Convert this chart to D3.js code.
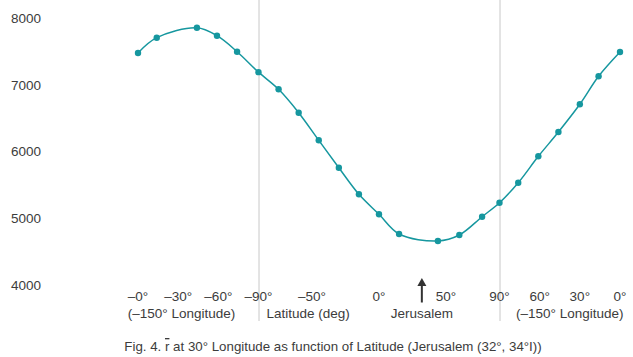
<!DOCTYPE html>
<html>
<head>
<meta charset="utf-8">
<script src="https://cdn.jsdelivr.net/npm/d3@7"></script>
<style>
  html, body { margin: 0; padding: 0; background: #fff; }
  svg { display: block; font-family: "Liberation Sans", Arial, sans-serif; }
</style>
</head>
<body>
<svg id="chart" width="633" height="357"></svg>
<script>
// Position along the path (degrees travelled): 0..90 = lat 0 to -90 at -150° lon,
// 90..270 = lat -90 to +90 at 30° lon, 270..360 = lat 90 to 0 at -150° lon.
const pathPos = [0, 14, 44, 59, 74, 90, 105, 120, 135, 150, 165, 180, 195, 224, 240, 257, 270, 284, 299, 314, 330, 344, 360];
const rValues = [7480, 7709, 7859, 7739, 7499, 7192, 6935, 6584, 6170, 5759, 5360, 5060, 4765, 4660, 4750, 5024, 5234, 5534, 5930, 6294, 6710, 7130, 7494];

const yTicks = [4000, 5000, 6000, 7000, 8000];
const xTickPos = [0, 30, 60, 90, 130, 180, 230, 270, 300, 330, 360];
const xTickLabels = ["\u20130\u00b0", "\u201330\u00b0", "\u201360\u00b0", "\u201390\u00b0", "\u201350\u00b0", "0\u00b0", "50\u00b0", "90\u00b0", "60\u00b0", "30\u00b0", "0\u00b0"];
const dividerPos = [90, 270];
const jerusalemPos = 212; // 180 + 32° latitude

const svg = d3.select("#chart");
const x = d3.scaleLinear().domain([0, 360]).range([138, 620]);
const y = d3.scaleLinear().domain([4000, 8000]).range([285, 18.3]);

const teal = "#16979f";
const textCol = "#3c3c3c";

// divider lines
svg.selectAll("line.div").data(dividerPos).join("line")
  .attr("class", "div")
  .attr("x1", d => x(d) + 0.5).attr("x2", d => x(d) + 0.5)
  .attr("y1", 0).attr("y2", 321)
  .attr("stroke", "#c8c8c8").attr("stroke-width", 1);

// y tick labels
svg.selectAll("text.ytick").data(yTicks).join("text")
  .attr("class", "ytick")
  .attr("x", 41).attr("y", d => y(d))
  .attr("dy", "0.35em")
  .attr("text-anchor", "end")
  .attr("font-size", 13.5)
  .attr("fill", textCol)
  .text(d => d);

// x tick labels
svg.selectAll("text.xtick").data(xTickPos).join("text")
  .attr("class", "xtick")
  .attr("x", d => x(d))
  .attr("y", 300.5)
  .attr("text-anchor", "middle")
  .attr("font-size", 13.5)
  .attr("fill", textCol)
  .text((d, i) => xTickLabels[i]);

// second-row labels
const row2 = [
  { p: 32.5, t: "(\u2013150\u00b0 Longitude)", a: "middle" },
  { p: 127, t: "Latitude (deg)", a: "middle" },
  { p: jerusalemPos, t: "Jerusalem", a: "middle" },
  { p: 322.5, t: "(\u2013150\u00b0 Longitude)", a: "middle" }
];
svg.selectAll("text.row2").data(row2).join("text")
  .attr("class", "row2")
  .attr("x", d => x(d.p))
  .attr("y", 317.5)
  .attr("text-anchor", d => d.a)
  .attr("font-size", 13.5)
  .attr("fill", textCol)
  .text(d => d.t);

// Jerusalem arrow
const jx = x(jerusalemPos);
svg.append("line")
  .attr("x1", jx).attr("x2", jx)
  .attr("y1", 284).attr("y2", 302.5)
  .attr("stroke", "#333").attr("stroke-width", 2);
svg.append("path")
  .attr("d", `M${jx},278 L${jx - 4.5},286 L${jx + 4.5},286 Z`)
  .attr("fill", "#333");

// curve
const pts = pathPos.map((p, i) => [p, rValues[i]]);
svg.append("path")
  .datum(pts)
  .attr("fill", "none")
  .attr("stroke", teal)
  .attr("stroke-width", 1.5)
  .attr("d", d3.line().x(d => x(d[0])).y(d => y(d[1])).curve(d3.curveCatmullRom.alpha(0.5)));

svg.selectAll("circle.pt").data(pts).join("circle")
  .attr("class", "pt")
  .attr("cx", d => x(d[0])).attr("cy", d => y(d[1]))
  .attr("r", 3.2)
  .attr("fill", teal);

// caption
const cap = svg.append("text")
  .attr("x", 333).attr("y", 351)
  .attr("text-anchor", "middle")
  .attr("font-size", 13.3)
  .attr("fill", textCol);
cap.append("tspan").text("Fig. 4. ");
cap.append("tspan").style("text-decoration", "overline").text("r");
cap.append("tspan").text(" at 30\u00b0 Longitude as function of Latitude (Jerusalem (32\u00b0, 34\u00b0I))");
</script>
</body>
</html>
